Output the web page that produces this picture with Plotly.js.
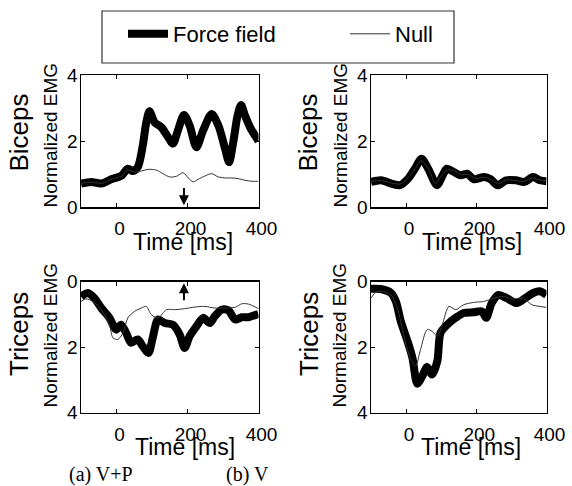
<!DOCTYPE html>
<html><head><meta charset="utf-8">
<script src="https://cdn.plot.ly/plotly-3.0.1.min.js"></script>
<style>html,body{margin:0;padding:0;background:#fff}</style>
</head><body><div id="chart" style="width:572px;height:486px"></div>
<script>
// (a) V+P, Biceps
const vpBicepsForceT = [-100,-72,-43,-15,13,32,46,60,74,84,93,107,126,145,159,173,190,206,225,244,268,287,306,317,329,341,351,362,376,390,400];
const vpBicepsForceV = [0.71,0.76,0.71,0.84,0.94,1.16,1.09,1.21,1.86,2.57,2.9,2.57,2.42,2.12,1.92,2.32,2.79,2.47,1.81,2.32,2.82,2.47,1.76,1.36,1.97,2.77,3.09,2.77,2.42,2.17,2.0];
const vpBicepsNullT = [-100,-70,-40,-15,13,32,51,70,89,112,131,150,169,188,202,216,230,249,268,287,306,324,343,362,381,400];
const vpBicepsNullV = [0.72,0.75,0.72,0.84,0.93,1.12,1.06,1.09,1.14,1.12,1.01,0.91,0.93,1.04,0.88,0.76,0.84,0.94,1.01,0.91,0.88,0.88,0.86,0.81,0.78,0.78];
// (b) V, Biceps
const vBicepsForceT = [-100,-71,-42,-18,6,25,44,63,88,104,116,136,155,174,193,222,241,261,285,313,337,362,381,400];
const vBicepsForceV = [0.76,0.81,0.71,0.66,0.86,1.16,1.46,1.16,0.66,0.96,1.16,1.06,0.96,1.01,0.84,0.91,0.84,0.66,0.81,0.81,0.76,0.91,0.81,0.78];
const vBicepsNullT = [-100,-70,-40,-15,5,25,42,60,85,102,118,138,158,178,198,222,245,262,285,313,337,360,380,400];
const vBicepsNullV = [0.78,0.80,0.72,0.70,0.88,1.15,1.40,1.22,0.72,0.98,1.12,1.10,0.98,0.98,0.86,0.90,0.82,0.70,0.82,0.80,0.78,0.88,0.82,0.80];
// (a) V+P, Triceps
const vpTricepsForceT = [-100,-81,-62,-43,-20,-1,13,27,41,60,74,90,102,117,136,159,178,192,206,225,244,263,277,296,315,334,353,372,400];
const vpTricepsForceV = [0.46,0.35,0.51,0.81,1.11,1.47,1.32,1.57,1.87,1.77,1.98,2.18,1.72,1.16,1.27,1.32,1.62,2.03,1.67,1.37,1.11,1.27,1.06,0.86,0.88,1.16,1.09,1.09,0.99];
const vpTricepsNullT = [-100,-86,-67,-43,-20,-10,4,18,32,51,70,84,98,117,141,164,192,221,249,277,306,334,353,372,400];
const vpTricepsNullV = [0.61,0.53,0.61,0.86,1.32,1.72,1.77,1.57,1.11,0.91,0.81,0.76,1.01,1.11,0.86,0.86,0.83,0.78,0.76,0.81,0.81,0.79,0.68,0.69,0.83];
// (b) V, Triceps
const vTricepsForceT = [-100,-72,-43,-29,-15,4,18,32,46,60,74,89,98,117,141,164,192,216,228,244,263,287,315,339,362,381,400];
const vTricepsForceV = [0.22,0.23,0.35,0.61,1.22,1.82,2.33,3.12,2.89,2.61,2.84,2.43,1.57,1.32,1.11,0.96,0.94,0.91,1.11,0.66,0.41,0.51,0.66,0.51,0.35,0.30,0.41];
const vTricepsNullT = [-100,-86,-67,-43,-25,-6,13,27,41,60,74,89,103,122,141,164,192,221,249,277,306,334,358,381,400];
const vTricepsNullV = [0.51,0.32,0.30,0.41,0.81,1.67,2.38,2.58,2.08,1.47,1.52,1.67,1.32,0.76,0.86,0.71,0.64,0.61,0.51,0.46,0.53,0.51,0.71,0.76,0.79];

const seriesNames = ['Force field', 'Null'];
const xTicks = [0, 200, 400];
const yTicks = [0, 2, 4];
const xTickText = ['0', '200', '400'];
const yTickText = ['0', '2', '4'];
const muscleLabels = ['Biceps', 'Triceps'];
const captions = ['(a) V+P', '(b) V'];
const arrowTime = 190;
const arrowFrom = 0.62;
const arrowTo = 0.05;

const SANS = 'Liberation Sans, Arial, sans-serif';
const SERIF = 'Liberation Serif, Times New Roman, serif';

function pair(tF, vF, tN, vN, xa, ya, show) {
  return [
    {x: tF, y: vF, xaxis: xa, yaxis: ya, type: 'scatter', mode: 'lines', name: seriesNames[0],
     line: {color: '#000', width: 8, shape: 'spline', smoothing: 0.8}, showlegend: show, legendwidth: 146},
    {x: tN, y: vN, xaxis: xa, yaxis: ya, type: 'scatter', mode: 'lines', name: seriesNames[1],
     line: {color: '#333', width: 1, shape: 'spline', smoothing: 0.8}, showlegend: show, legendwidth: 50}
  ];
}

const data = [].concat(
  pair(vpBicepsForceT, vpBicepsForceV, vpBicepsNullT, vpBicepsNullV, 'x', 'y', true),
  pair(vBicepsForceT, vBicepsForceV, vBicepsNullT, vBicepsNullV, 'x2', 'y2', false),
  pair(vpTricepsForceT, vpTricepsForceV, vpTricepsNullT, vpTricepsNullV, 'x3', 'y3', false),
  pair(vTricepsForceT, vTricepsForceV, vTricepsNullT, vTricepsNullV, 'x4', 'y4', false)
);

const axBase = {showgrid: false, zeroline: false, showline: true, linecolor: '#000', linewidth: 1.5,
  mirror: 'ticks', ticks: 'inside', ticklen: 4, tickwidth: 1, tickcolor: '#000',
  tickfont: {family: SANS, size: 19, color: '#000'}};
function xa(dom, anchor) {
  return Object.assign({}, axBase, {domain: dom, anchor: anchor, range: [-100, 400],
    tickmode: 'array', tickvals: xTicks, ticktext: xTickText, ticklabelstandoff: 4, ticklabelshift: 3});
}
function ya(dom, anchor, rev) {
  return Object.assign({}, axBase, {domain: dom, anchor: anchor, range: rev ? [4, 0] : [0, 4],
    tickmode: 'array', tickvals: yTicks, ticktext: yTickText, ticklabelstandoff: -2});
}
const W = 572, H = 486;
const px = v => v / W, py = v => (H - v) / H;
const dA = [px(81), px(258.5)], dB = [px(371), px(546.5)];
const dTop = [py(207), py(75)], dBot = [py(412.5), py(281.5)];

function txt(text, x, y, size, angle, fam) {
  return {text: text, x: px(x), y: py(y), xref: 'paper', yref: 'paper', showarrow: false,
    xanchor: 'center', yanchor: 'middle', textangle: angle || 0,
    font: {family: fam || SANS, size: size, color: '#000'}};
}

const annotations = [
  txt(muscleLabels[0], 19, 132.5, 26, -90), txt(muscleLabels[0], 308, 132.5, 26, -90),
  txt(muscleLabels[1], 19, 334, 26, -90), txt(muscleLabels[1], 309, 334, 26, -90),
  txt('Normalized EMG', 50, 135.5, 19, -90), txt('Normalized EMG', 340, 135.5, 19, -90),
  txt('Normalized EMG', 50, 335.5, 19, -90), txt('Normalized EMG', 339, 335.5, 19, -90),
  txt('Time [ms]', 183, 242, 23), txt('Time [ms]', 471.5, 242, 23),
  txt('Time [ms]', 185, 447, 23), txt('Time [ms]', 471, 447, 23),
  txt(captions[0], 101, 474, 20, 0, SERIF), txt(captions[1], 247, 474, 20, 0, SERIF),
  {x: arrowTime, y: arrowTo, ax: arrowTime, ay: arrowFrom, xref: 'x', yref: 'y', axref: 'x', ayref: 'y',
   showarrow: true, arrowhead: 2, arrowsize: 1, arrowwidth: 2, arrowcolor: '#000', text: ''},
  {x: arrowTime, y: arrowTo, ax: arrowTime, ay: arrowFrom, xref: 'x3', yref: 'y3', axref: 'x3', ayref: 'y3',
   showarrow: true, arrowhead: 2, arrowsize: 1, arrowwidth: 2, arrowcolor: '#000', text: ''}
];

const layout = {
  width: W, height: H, margin: {l: 0, r: 0, t: 0, b: 0},
  paper_bgcolor: '#fff', plot_bgcolor: '#fff',
  xaxis: xa(dA, 'y'), yaxis: ya(dTop, 'x', false),
  xaxis2: xa(dB, 'y2'), yaxis2: ya(dTop, 'x2', false),
  xaxis3: xa(dA, 'y3'), yaxis3: ya(dBot, 'x3', true),
  xaxis4: xa(dB, 'y4'), yaxis4: ya(dBot, 'x4', true),
  showlegend: true,
  legend: {orientation: 'h', x: px(102), y: py(34), xanchor: 'left', yanchor: 'middle',
    borderwidth: 0, bgcolor: 'rgba(0,0,0,0)', indentation: 21, itemwidth: 40,
    font: {family: SANS, size: 22, color: '#000'}},
  shapes: [{type: 'rect', xref: 'paper', yref: 'paper', x0: px(102), x1: px(454), y0: py(63), y1: py(11),
    line: {color: '#333', width: 1.2}, fillcolor: 'rgba(0,0,0,0)'}],
  annotations: annotations
};

Plotly.newPlot('chart', data, layout, {staticPlot: true, displayModeBar: false});
</script>
</body></html>
